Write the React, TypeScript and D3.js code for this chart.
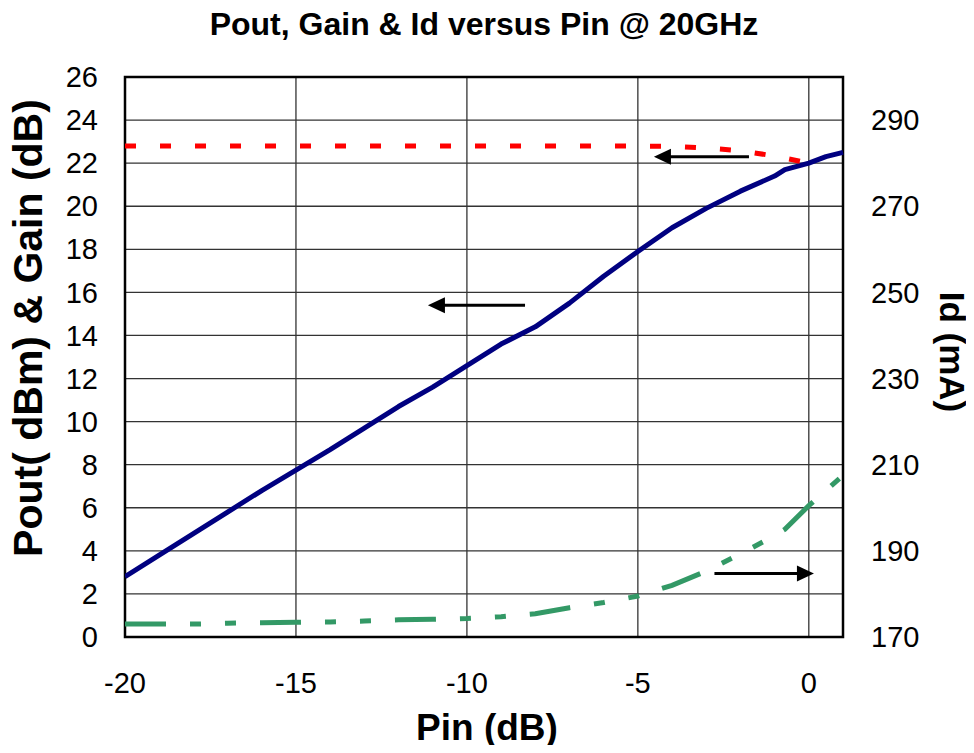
import React, { useEffect, useRef } from 'react'
import * as d3 from 'd3'

// Pin (dBm) sample points
const pinPout = [-20, -19, -18, -17, -16, -15, -14, -13, -12, -11, -10, -9, -8, -7, -6, -5, -4, -3, -2, -1, -0.7, 0, 0.5, 1]
const poutValues = [2.8, 3.8, 4.8, 5.8, 6.8, 7.75, 8.7, 9.7, 10.7, 11.6, 12.6, 13.6, 14.4, 15.5, 16.75, 17.9, 19.0, 19.9, 20.7, 21.4, 21.7, 22.0, 22.3, 22.5]

const pinGain = [-20, -18, -16, -14, -12, -10, -8, -6, -4, -3, -2, -1, 0, 0.35]
const gainValues = [22.8, 22.8, 22.8, 22.8, 22.8, 22.8, 22.8, 22.8, 22.78, 22.7, 22.58, 22.33, 22.0, 21.8]

const pinId = [-20, -19, -18, -17, -16, -15, -14, -13, -12, -11, -10, -9, -8, -7, -6, -5, -4, -3, -2, -1, -0.7, 0, 1]
const idValues = [173, 173, 173, 173.2, 173.3, 173.4, 173.5, 173.7, 174, 174.1, 174.3, 174.7, 175.4, 176.8, 178, 179.5, 182, 185.3, 189.3, 193.5, 195, 200.5, 207.5]

const xTicks = [-20, -15, -10, -5, 0]
const yLeftTicks = d3.range(0, 27, 2)
const yRightTicks = [170, 190, 210, 230, 250, 270, 290]

const font = 'Liberation Sans, Arial, sans-serif'

export default function App() {
  const ref = useRef<SVGSVGElement>(null)

  useEffect(() => {
    const svg = d3.select(ref.current)
    svg.selectAll('*').remove()

    const m = { left: 125, right: 843, top: 77, bottom: 637 }
    const x = d3.scaleLinear().domain([-20, 1]).range([m.left, m.right])
    const y = d3.scaleLinear().domain([0, 26]).range([m.bottom, m.top])
    const y2 = d3.scaleLinear().domain([170, 300]).range([m.bottom, m.top])

    // grid
    const grid = svg.append('g').attr('stroke', '#333').attr('stroke-width', 1.3)
    yLeftTicks.forEach((t) => {
      grid.append('line').attr('x1', m.left).attr('x2', m.right).attr('y1', y(t)).attr('y2', y(t))
    })
    xTicks.forEach((t) => {
      grid.append('line').attr('x1', x(t)).attr('x2', x(t)).attr('y1', m.top).attr('y2', m.bottom)
    })

    // plot border
    svg.append('rect')
      .attr('x', m.left).attr('y', m.top)
      .attr('width', m.right - m.left).attr('height', m.bottom - m.top)
      .attr('fill', 'none').attr('stroke', '#000').attr('stroke-width', 2.5)

    const clip = svg.append('clipPath').attr('id', 'plotclip')
    clip.append('rect').attr('x', m.left).attr('y', m.top - 5)
      .attr('width', m.right - m.left + 4).attr('height', m.bottom - m.top + 5)

    const g = svg.append('g').attr('clip-path', 'url(#plotclip)')

    const lineLeft = (xs: number[]) => d3.line<number>().x((_, i) => x(xs[i])).y((d) => y(d))

    g.append('path')
      .datum(poutValues)
      .attr('d', lineLeft(pinPout))
      .attr('fill', 'none').attr('stroke', '#000080').attr('stroke-width', 5)
      .attr('stroke-linejoin', 'round')

    g.append('path')
      .datum(gainValues)
      .attr('d', lineLeft(pinGain))
      .attr('fill', 'none').attr('stroke', '#ff0000').attr('stroke-width', 5)
      .attr('stroke-dasharray', '11,24')

    g.append('path')
      .datum(idValues)
      .attr('d', d3.line<number>().x((_, i) => x(pinId[i])).y((d) => y2(d)))
      .attr('fill', 'none').attr('stroke', '#339966').attr('stroke-width', 5)
      .attr('stroke-dasharray', '41,24,11,24,11,24')

    // arrows
    const arrow = (x1: number, yv: number, x2: number) => {
      const dir = x2 > x1 ? 1 : -1
      const px1 = x(x1), px2 = x(x2), py = y(yv)
      svg.append('line')
        .attr('x1', px1).attr('x2', px2 - dir * 14).attr('y1', py).attr('y2', py)
        .attr('stroke', '#000').attr('stroke-width', 3)
      svg.append('path')
        .attr('d', `M${px2},${py} L${px2 - dir * 17},${py - 8} L${px2 - dir * 17},${py + 8} Z`)
        .attr('fill', '#000')
    }
    arrow(-1.75, 22.3, -4.53)
    arrow(-8.3, 15.4, -11.14)
    arrow(-2.76, 2.95, 0.15)

    // axis tick labels
    svg.append('g').selectAll('text').data(yLeftTicks).enter().append('text')
      .attr('x', 98).attr('y', (d) => y(d)).attr('dy', '0.35em')
      .attr('text-anchor', 'end').attr('font-family', font).attr('font-size', 29)
      .text((d) => d)

    svg.append('g').selectAll('text').data(yRightTicks).enter().append('text')
      .attr('x', 871).attr('y', (d) => y2(d)).attr('dy', '0.35em')
      .attr('text-anchor', 'start').attr('font-family', font).attr('font-size', 29)
      .text((d) => d)

    svg.append('g').selectAll('text').data(xTicks).enter().append('text')
      .attr('x', (d) => x(d)).attr('y', 693)
      .attr('text-anchor', 'middle').attr('font-family', font).attr('font-size', 29)
      .text((d) => d)

    // titles
    svg.append('text')
      .attr('x', 484).attr('y', 35).attr('text-anchor', 'middle')
      .attr('font-family', font).attr('font-size', 32).attr('font-weight', 'bold')
      .text('Pout, Gain & Id versus Pin @ 20GHz')

    svg.append('text')
      .attr('x', 487).attr('y', 740).attr('text-anchor', 'middle')
      .attr('font-family', font).attr('font-size', 37).attr('font-weight', 'bold')
      .text('Pin (dB)')

    svg.append('text')
      .attr('transform', 'translate(42,328) rotate(-90)').attr('text-anchor', 'middle')
      .attr('font-family', font).attr('font-size', 41).attr('font-weight', 'bold')
      .text('Pout( dBm) & Gain (dB)')

    svg.append('text')
      .attr('transform', 'translate(940,352) rotate(90)').attr('text-anchor', 'middle')
      .attr('font-family', font).attr('font-size', 35).attr('font-weight', 'bold')
      .text('Id (mA)')
  }, [])

  return (
    <div style={{ margin: -8 }}>
      <svg ref={ref} width={974} height={753} style={{ display: 'block', background: '#fff' }}></svg>
    </div>
  )
}
